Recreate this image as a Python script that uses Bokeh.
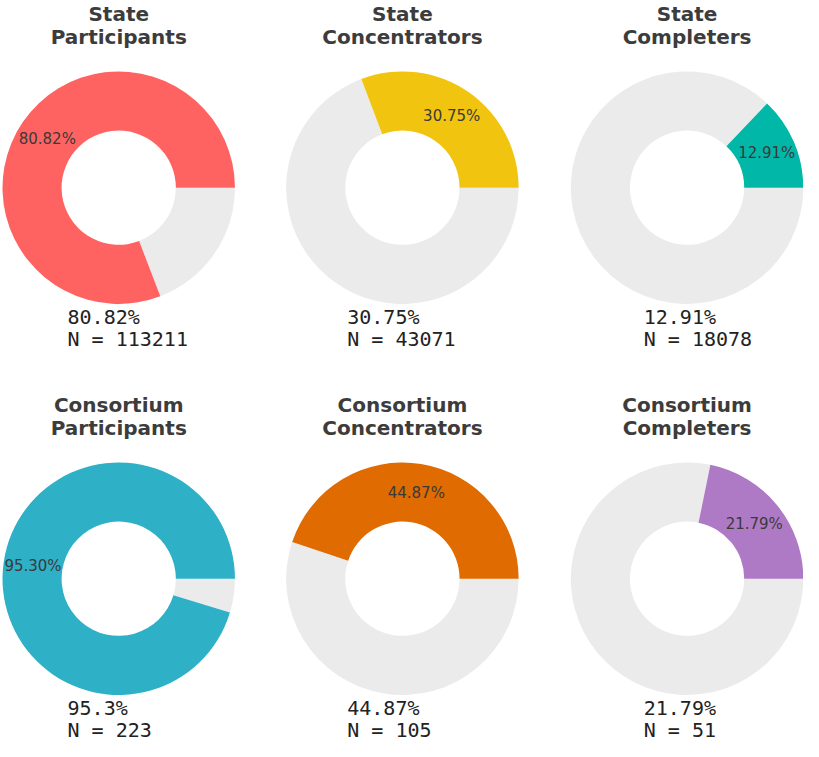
import math
from bokeh.plotting import figure
from bokeh.models import ColumnDataSource, Range1d
from bokeh.core.properties import value
from bokeh.embed import file_html
from bokeh.resources import INLINE

# ---- data ----
title_top = ["State", "State", "State", "Consortium", "Consortium", "Consortium"]
title_bottom = ["Participants", "Concentrators", "Completers",
                "Participants", "Concentrators", "Completers"]
pcts = [80.82, 30.75, 12.91, 95.30, 44.87, 21.79]
inner_labels = ["80.82%", "30.75%", "12.91%", "95.30%", "44.87%", "21.79%"]
pct_labels = ["80.82%", "30.75%", "12.91%", "95.3%", "44.87%", "21.79%"]
counts = [113211, 43071, 18078, 223, 105, 51]
colors = ["#FF6361", "#F1C40F", "#00B7A8", "#2EB0C7", "#E06B00", "#AF7AC5"]
rest_color = "#EBEBEB"

# ---- layout (reference pixel positions, scaled to fit) ----
S = 0.985


def X(x):
    return S * (x - 7) + 2


def Y(y):
    return -(S * (y - 8) + 3)


col_x = [125, 413, 702]
row_y = [195, 592]
text_dx = [-52, -56, -44]
R_OUT, R_IN, R_LAB = 118 * S, 58 * S, 88 * S

W, H = 803, 741
p = figure(width=W, height=H, output_backend="svg", toolbar_location=None,
           x_range=Range1d(0, W), y_range=Range1d(-H, 0),
           min_border=0)
p.axis.visible = False
p.grid.visible = False
p.outline_line_color = None
p.background_fill_color = "white"
p.border_fill_color = "white"

cx, cy, a_end, lx, ly = [], [], [], [], []
tx, t1y, t2y, bx, b1y, b2y = [], [], [], [], [], []
n_labels = []
for i, pc in enumerate(pcts):
    c = i % 3
    r = i // 3
    x0, y0 = col_x[c], row_y[r]
    ang = pc / 100.0 * 2 * math.pi
    cx.append(X(x0))
    cy.append(Y(y0))
    a_end.append(ang)
    mid = ang / 2
    lx.append(X(x0) + R_LAB * math.cos(mid))
    ly.append(Y(y0) + R_LAB * math.sin(mid))
    tx.append(X(x0))
    t1y.append(Y(y0 - 176))
    t2y.append(Y(y0 - 153))
    bx.append(X(x0 + text_dx[c]))
    b1y.append(Y(y0 + 131.5))
    b2y.append(Y(y0 + 153.5))
    n_labels.append(f"N = {counts[i]}")

src = ColumnDataSource(dict(cx=cx, cy=cy, a0=[0.0] * 6, a1=a_end,
                            full=[2 * math.pi] * 6, color=colors,
                            lx=lx, ly=ly, lab=inner_labels,
                            tx=tx, t1y=t1y, t2y=t2y, t1=title_top, t2=title_bottom,
                            bx=bx, b1y=b1y, b2y=b2y, b1=pct_labels, b2=n_labels))

p.annular_wedge(x="cx", y="cy", inner_radius=R_IN, outer_radius=R_OUT,
                inner_radius_units="screen", outer_radius_units="screen",
                start_angle="a1", end_angle="full", direction="anticlock",
                fill_color=rest_color, line_color=None, source=src)
p.annular_wedge(x="cx", y="cy", inner_radius=R_IN, outer_radius=R_OUT,
                inner_radius_units="screen", outer_radius_units="screen",
                start_angle="a0", end_angle="a1", direction="anticlock",
                fill_color="color", line_color=None, source=src)

p.text(x="lx", y="ly", text="lab", source=src, text_align="center",
       text_baseline="middle", text_font=value("DejaVu Sans"),
       text_font_size="15px", text_color="#3a3a3a")

for col, t in (("t1y", "t1"), ("t2y", "t2")):
    p.text(x="tx", y=col, text=t, source=src,
           text_align="center", text_baseline="middle",
           text_font=value("DejaVu Sans"), text_font_style="bold",
           text_font_size="20px", text_color="#3c3c3c")

for col, t in (("b1y", "b1"), ("b2y", "b2")):
    p.text(x="bx", y=col, text=t, source=src, text_align="left",
           text_baseline="middle", text_font=value("DejaVu Sans Mono"),
           text_font_size="20px", text_color="#222222")

open("out.html", "w").write(file_html(p, INLINE))
